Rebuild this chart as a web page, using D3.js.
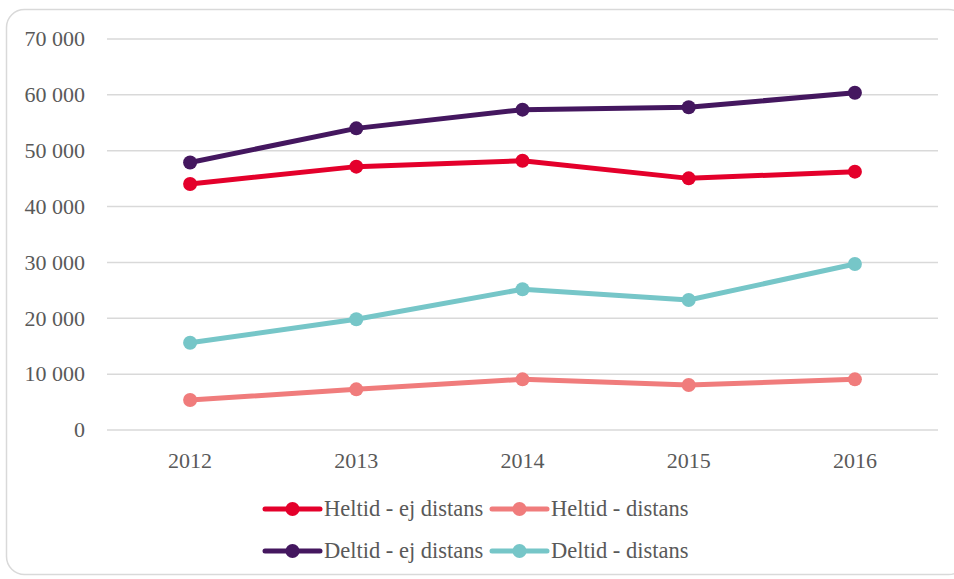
<!DOCTYPE html>
<html>
<head>
<meta charset="utf-8">
<script src="https://cdn.jsdelivr.net/npm/d3@7"></script>
<style>
  html, body { margin: 0; padding: 0; background: #fff; }
  svg text { font-family: "Liberation Serif", "DejaVu Serif", serif; fill: #595959; }
</style>
</head>
<body>
<div id="chart"></div>
<script>
// data
const years = ["2012", "2013", "2014", "2015", "2016"];
const heltidEj = [44050, 47150, 48200, 45050, 46250];
const heltidDist = [5370, 7280, 9070, 8060, 9070];
const deltidEj = [47900, 54000, 57350, 57770, 60380];
const deltidDist = [15630, 19820, 25190, 23270, 29720];
const yTicks = [0, 10000, 20000, 30000, 40000, 50000, 60000, 70000];

const seriesNames = ["Heltid - ej distans", "Heltid - distans", "Deltid - ej distans", "Deltid - distans"];
const seriesColors = ["#e4002b", "#f07c7c", "#44175f", "#76c6c8"];
const seriesValues = [heltidEj, heltidDist, deltidEj, deltidDist];

const w = 954, h = 579;
const margin = {left: 107, right: 16, top: 39, bottom: 149};

const svg = d3.select("#chart")
    .append("svg")
    .attr("width", w)
    .attr("height", h);

// panel border
svg.append("rect")
    .attr("x", 6.5).attr("y", 9.5)
    .attr("width", 960).attr("height", 565)
    .attr("rx", 18).attr("ry", 18)
    .attr("fill", "none")
    .attr("stroke", "#d9d9d9")
    .attr("stroke-width", 1.5);

const x = d3.scaleBand()
    .domain(years)
    .range([margin.left, w - margin.right]);

const y = d3.scaleLinear()
    .domain([0, 70000])
    .range([h - margin.bottom, margin.top]);

const fmt = v => d3.format(",")(v).replace(/,/g, " ");

// gridlines
svg.append("g")
    .selectAll("line")
    .data(yTicks)
    .enter()
    .append("line")
    .attr("x1", margin.left)
    .attr("x2", w - margin.right)
    .attr("y1", d => y(d))
    .attr("y2", d => y(d))
    .attr("stroke", "#d9d9d9")
    .attr("stroke-width", 1.5);

// y labels
svg.append("g")
    .selectAll("text")
    .data(yTicks)
    .enter()
    .append("text")
    .attr("x", 85)
    .attr("y", d => y(d))
    .attr("dy", "0.33em")
    .attr("text-anchor", "end")
    .style("font-size", "22px")
    .text(d => fmt(d));

// x labels
svg.append("g")
    .selectAll("text")
    .data(years)
    .enter()
    .append("text")
    .attr("x", d => x(d) + x.bandwidth() / 2)
    .attr("y", h - margin.bottom + 38)
    .attr("text-anchor", "middle")
    .style("font-size", "22px")
    .text(d => d);

const line = d3.line()
    .x((d, i) => x(years[i]) + x.bandwidth() / 2)
    .y(d => y(d));

seriesValues.forEach((vals, k) => {
    const g = svg.append("g");
    g.append("path")
        .attr("d", line(vals))
        .attr("fill", "none")
        .attr("stroke", seriesColors[k])
        .attr("stroke-width", 5)
        .attr("stroke-linejoin", "round");
    g.selectAll("circle")
        .data(vals)
        .enter()
        .append("circle")
        .attr("cx", (d, i) => x(years[i]) + x.bandwidth() / 2)
        .attr("cy", d => y(d))
        .attr("r", 7)
        .attr("fill", seriesColors[k]);
});

// legend, two rows of two
const legendX = [265, 492];
const legendY = [509, 551];

const legend = svg.append("g")
    .selectAll("g")
    .data(seriesNames)
    .enter()
    .append("g")
    .attr("transform", (d, i) => "translate(" + legendX[i % 2] + "," + legendY[Math.floor(i / 2)] + ")");

legend.append("line")
    .attr("x1", 0).attr("x2", 55)
    .attr("y1", 0).attr("y2", 0)
    .attr("stroke", (d, i) => seriesColors[i])
    .attr("stroke-width", 5)
    .attr("stroke-linecap", "round");

legend.append("circle")
    .attr("cx", 27.5).attr("cy", 0)
    .attr("r", 7)
    .attr("fill", (d, i) => seriesColors[i]);

legend.append("text")
    .attr("x", 59)
    .attr("y", 0)
    .attr("dy", "0.33em")
    .style("font-size", "22.5px")
    .text(d => d);
</script>
</body>
</html>
